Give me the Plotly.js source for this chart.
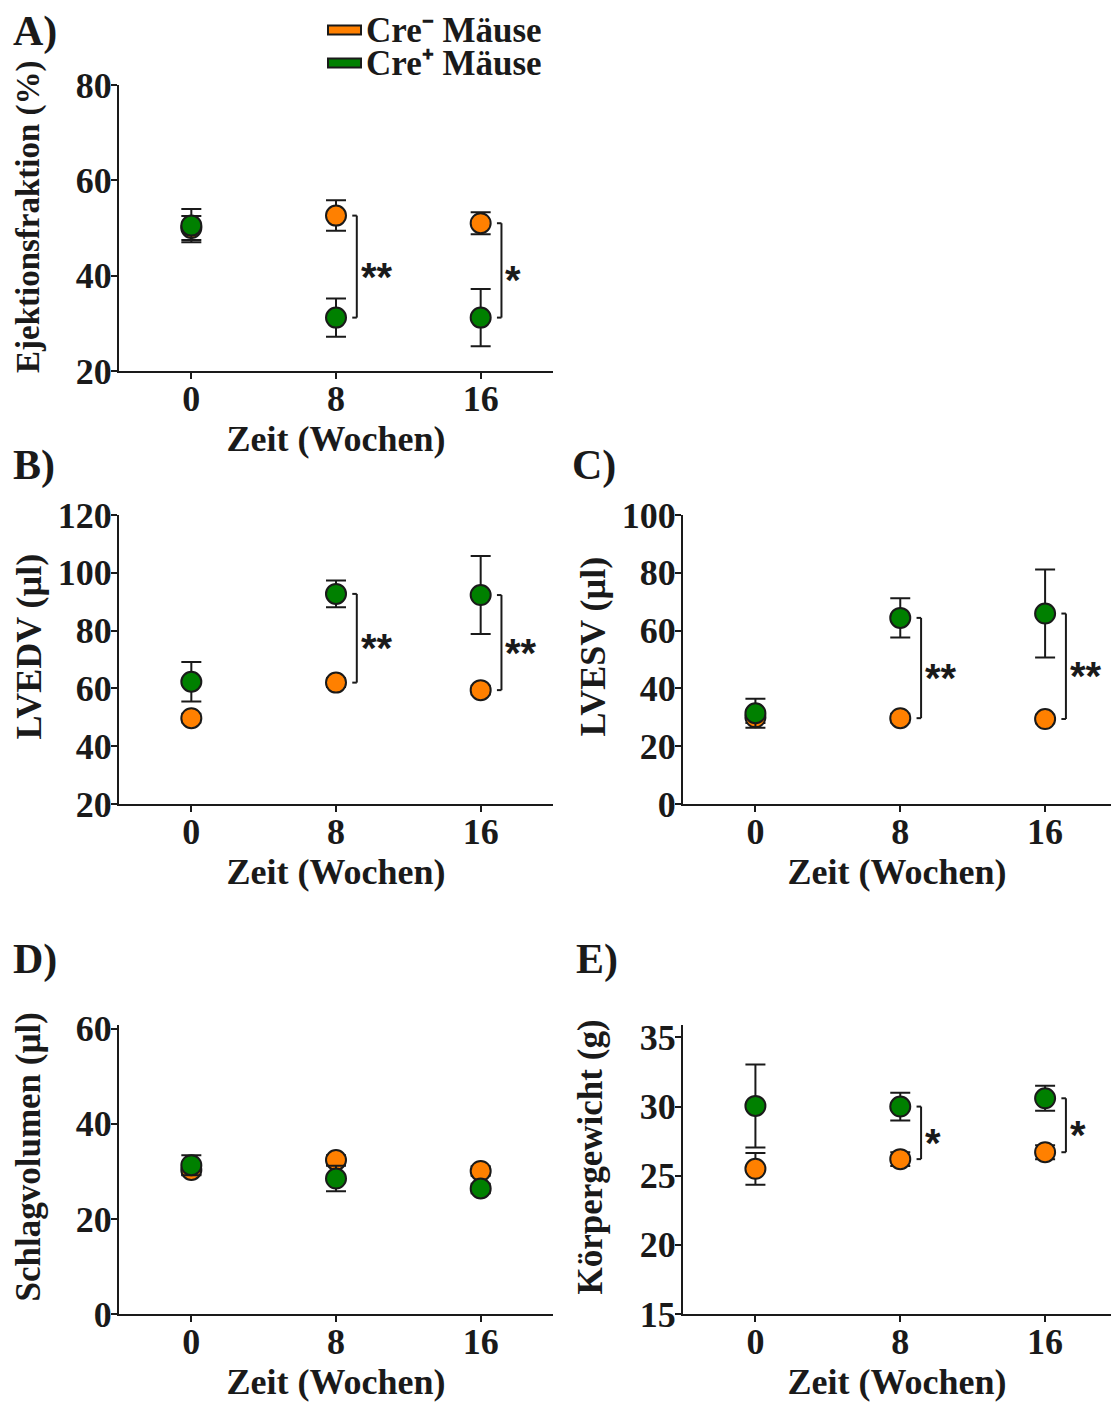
<!DOCTYPE html>
<html>
<head>
<meta charset="utf-8">
<script src="https://cdn.plot.ly/plotly-3.0.1.min.js"></script>
<style>html,body{margin:0;padding:0;background:#fff;}#chart{width:1111px;height:1403px;}</style>
</head>
<body>
<div id="chart"></div>
<script>
// ---- data ----
const weeks = [0, 8, 16];
const weekTickLabels = ['0', '8', '16'];
const groupNames = ['Cre\u207B Mäuse', 'Cre\u207A Mäuse'];

// A) Ejektionsfraktion (%)
const efNeg = [50.0, 52.6, 51.0];
const efNegErr = [2.5, 3.2, 2.3];
const efPos = [50.5, 31.2, 31.2];
const efPosErr = [3.5, 4.0, 6.0];
const efSig = ['', '**', '*'];

// B) LVEDV (µl)
const lvedvNeg = [49.7, 62.0, 59.4];
const lvedvNegErr = [1.5, 1.5, 1.5];
const lvedvPos = [62.3, 92.7, 92.3];
const lvedvPosErr = [6.8, 4.6, 13.5];
const lvedvSig = ['', '**', '**'];

// C) LVESV (µl)
const lvesvNeg = [30.0, 29.7, 29.4];
const lvesvNegErr = [2.0, 1.5, 1.5];
const lvesvPos = [31.4, 64.4, 65.9];
const lvesvPosErr = [5.0, 6.8, 15.2];
const lvesvSig = ['', '**', '**'];

// D) Schlagvolumen (µl)
const svNeg = [30.3, 32.4, 30.1];
const svNegErr = [1.0, 1.0, 1.0];
const svPos = [31.3, 28.5, 26.4];
const svPosErr = [2.1, 2.7, 1.0];
const svSig = ['', '', ''];

// E) Körpergewicht (g)
const bwNeg = [25.5, 26.2, 26.7];
const bwNegErr = [1.15, 0.5, 0.5];
const bwPos = [30.05, 30.0, 30.6];
const bwPosErr = [3.0, 1.0, 0.9];
const bwSig = ['', '*', '*'];

// ---- styling ----
const W = 1111, H = 1403;
const ORANGE = '#ff8000', GREEN = '#008000', INK = '#1a1a1a';
const SERIF = 'Liberation Serif';

const panels = [
  {id: '', label: 'A)', ytitle: 'Ejektionsfraktion (%)', neg: efNeg, negErr: efNegErr, pos: efPos, posErr: efPosErr, sig: efSig,
   px: [119, 553], py: [85, 371], yrange: [20, 80], dtick: 20, xrange: [-4, 20], tx: 28, tsize: 33, tup: 11, lab: [11, 6]},
  {id: '2', label: 'B)', ytitle: 'LVEDV (µl)', neg: lvedvNeg, negErr: lvedvNegErr, pos: lvedvPos, posErr: lvedvPosErr, sig: lvedvSig,
   px: [119, 553], py: [515, 804], yrange: [20, 120], dtick: 20, xrange: [-4, 20], tx: 28, tsize: 36, tup: 13, lab: [11, 440]},
  {id: '3', label: 'C)', ytitle: 'LVESV (µl)', neg: lvesvNeg, negErr: lvesvNegErr, pos: lvesvPos, posErr: lvesvPosErr, sig: lvesvSig,
   px: [683, 1111], py: [515, 804], yrange: [0, 100], dtick: 20, xrange: [-4, 19.64], tx: 592, tsize: 36, tup: 13, lab: [570, 440]},
  {id: '4', label: 'D)', ytitle: 'Schlagvolumen (µl)', neg: svNeg, negErr: svNegErr, pos: svPos, posErr: svPosErr, sig: svSig,
   px: [119, 553], py: [1025, 1314], yrange: [0, 60.8], dtick: 20, xrange: [-4, 20], tx: 28, tsize: 35, tup: 13, lab: [11, 934]},
  {id: '5', label: 'E)', ytitle: 'Körpergewicht (g)', neg: bwNeg, negErr: bwNegErr, pos: bwPos, posErr: bwPosErr, sig: bwSig,
   px: [683, 1111], py: [1025, 1314], yrange: [15, 35.9], dtick: 5, xrange: [-4, 19.64], tx: 590, tsize: 35, tup: 12, lab: [574, 934]}
];

const traces = [];
const layout = {
  width: W, height: H,
  margin: {l: 0, r: 0, t: 0, b: 0},
  paper_bgcolor: '#fff', plot_bgcolor: 'rgba(0,0,0,0)',
  showlegend: false,
  font: {family: SERIF, color: INK},
  shapes: [], annotations: []
};

function marker(color) {
  return {size: 20, color: color, line: {color: INK, width: 2}};
}
function errY(arr) {
  return {type: 'data', array: arr, visible: true, color: INK, thickness: 2, width: 10};
}

panels.forEach(p => {
  const xa = 'x' + p.id, ya = 'y' + p.id;
  traces.push({x: weeks, y: p.neg, type: 'scatter', mode: 'markers', name: groupNames[0],
    xaxis: xa, yaxis: ya, marker: marker(ORANGE), error_y: errY(p.negErr), cliponaxis: false});
  traces.push({x: weeks, y: p.pos, type: 'scatter', mode: 'markers', name: groupNames[1],
    xaxis: xa, yaxis: ya, marker: marker(GREEN), error_y: errY(p.posErr), cliponaxis: false});

  const axisCommon = {
    showline: true, linecolor: INK, linewidth: 2, mirror: false,
    ticks: 'outside', ticklen: 6, tickwidth: 2, tickcolor: INK,
    showgrid: false, zeroline: false, fixedrange: true,
    tickfont: {family: SERIF, size: 36, weight: 'bold', color: INK}
  };
  layout['xaxis' + p.id] = Object.assign({}, axisCommon, {
    domain: [p.px[0] / W, p.px[1] / W], range: p.xrange, anchor: ya,
    tickmode: 'array', tickvals: weeks, ticktext: weekTickLabels, ticklabelstandoff: -11,
    title: {text: 'Zeit (Wochen)', font: {family: SERIF, size: 36, weight: 'bold', color: INK}, standoff: 7}
  });
  layout['yaxis' + p.id] = Object.assign({}, axisCommon, {
    domain: [1 - p.py[1] / H, 1 - p.py[0] / H], range: p.yrange, anchor: xa,
    tickmode: 'linear', tick0: 0, dtick: p.dtick, ticklabelstandoff: -8
  });

  // y-axis title (placed like the reference: slightly above the axis centre)
  layout.annotations.push({xref: 'paper', yref: 'paper', x: p.tx / W, y: 1 - ((p.py[0] + p.py[1]) / 2 - p.tup) / H,
    xanchor: 'center', yanchor: 'middle', textangle: -90, showarrow: false, text: p.ytitle,
    font: {family: SERIF, size: p.tsize, weight: 'bold', color: INK}});

  // panel label
  layout.annotations.push({xref: 'paper', yref: 'paper', x: p.lab[0] / W, y: 1 - p.lab[1] / H,
    xanchor: 'left', yanchor: 'top', showarrow: false, text: p.label,
    font: {family: SERIF, size: 42, weight: 'bold', color: INK}});

  // significance brackets
  p.sig.forEach((s, i) => {
    if (!s) return;
    const xv = weeks[i] + 1.15, xt = weeks[i] + 0.9;
    const y1 = p.neg[i], y2 = p.pos[i];
    const line = {color: INK, width: 2};
    layout.shapes.push({type: 'line', xref: xa, yref: ya, x0: xv, x1: xv, y0: y1, y1: y2, line: line});
    layout.shapes.push({type: 'line', xref: xa, yref: ya, x0: xt, x1: xv, y0: y1, y1: y1, line: line});
    layout.shapes.push({type: 'line', xref: xa, yref: ya, x0: xt, x1: xv, y0: y2, y1: y2, line: line});
    layout.annotations.push({xref: xa, yref: ya, x: xv, y: (y1 + y2) / 2, xanchor: 'left', yanchor: 'middle',
      xshift: 2, yshift: -10, showarrow: false, text: s,
      font: {family: 'Liberation Sans', size: 40, weight: 'bold', color: INK}});
  });
});

// legend (drawn at top)
const legendItems = [{name: groupNames[0], color: ORANGE, y: 30}, {name: groupNames[1], color: GREEN, y: 63}];
legendItems.forEach(it => {
  layout.shapes.push({type: 'rect', xref: 'paper', yref: 'paper',
    x0: 328 / W, x1: 361 / W, y0: 1 - (it.y + 4.5) / H, y1: 1 - (it.y - 4.5) / H,
    fillcolor: it.color, line: {color: INK, width: 2}});
  layout.annotations.push({xref: 'paper', yref: 'paper', x: 364 / W, y: 1 - it.y / H,
    xanchor: 'left', yanchor: 'middle', showarrow: false, text: it.name, height: 30, valign: 'middle',
    font: {family: SERIF, size: 35, weight: 'bold', color: INK}});
});

Plotly.newPlot('chart', traces, layout, {displayModeBar: false, staticPlot: true});
</script>
</body>
</html>
